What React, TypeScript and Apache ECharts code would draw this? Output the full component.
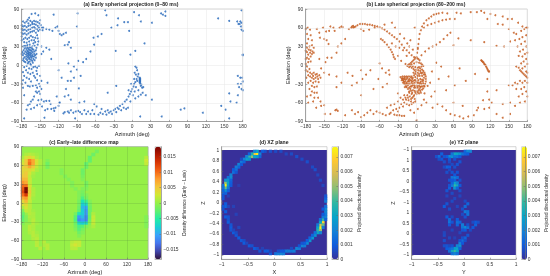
import React, { useEffect, useRef } from "react";
import * as echarts from "echarts";

const earlyPoints: number[][] = [
[-178,70],[-175,68],[-172,70],[-169,67],[-166,71],[-163,69],[-160,71],[-157,70],[-154,69],[-151,67],[-149,64],[-147,60],[-146,56],[-178,62],[-175,63],[-172,61],[-169,63],[-166,64],[-163,66],[-160,66],[-157,65],[-154,63],[-152,60],[-150,57],[-178,56],[-175,57],[-172,55],[-169,57],[-166,58],[-163,60],[-160,61],[-158,59],[-155,58],[-153,55],[-178,50],[-175,51],[-172,49],[-169,51],[-166,53],[-163,54],[-160,55],[-157,52],[-155,48],[-154,43],[-153,38],[-154,33],[-156,28],[-158,44],[-160,40],[-162,45],[-165,47],[-168,44],[-171,42],[-174,44],[-177,42],[-180,64],[-180,58],[-180,52],[-180,46],[-180,40],[-176,37],[-172,36],[-168,38],[-164,40],[-161,35],[-158,37],[-175,31],[-171,32],[-167,33],[-163,30],[-159,31],[-157,24],[-156,18],[-157,12],[-159,8],[-162,4],[-166,2],[-170,3],[-174,5],[-178,8],
[-180,18],[-179,21],[-178,16],[-177,24],[-176,19],[-175,13],[-175,27],[-174,22],[-173,17],[-173,10],[-172,26],[-172,20],[-172,14],[-171,29],[-171,23],[-171,8],[-170,19],[-170,16],[-170,12],[-169,27],[-169,22],[-169,18],[-169,14],[-168,25],[-168,20],[-168,10],[-167,29],[-167,16],[-167,12],[-167,6],[-166,24],[-166,20],[-166,17],[-165,28],[-165,14],[-165,9],[-164,23],[-164,19],[-164,12],[-163,26],[-163,16],[-163,7],[-162,21],[-162,14],[-161,25],[-161,10],[-160,18],[-160,14],[-159,22],[-158,16],[-177,11],[-174,30],[-178,30],[-176,6],[-169,5],[-165,0],[-161,-3],[-172,-1],[-176,-3],[-168,-5],[-164,-6],[-158,-2],[-155,-4],[-152,-1],[-156,-9],[-178,-11],[-176,-17],[-173,-8],[-170,-12],[-166,-14],[-162,-12],[-160,-17],[-172,-20],[-168,-22],[-158,-20],[-155,-24],[-178,-24],[-174,-28],[-165,-26],[-150,-17],[-155,-14],[-148,-25],[-152,-30],[-162,-33],[-167,-34],[-170,-33],[-157,-32],[-155,-36],[-150,-34],[-148,-38],[-138,-28],[-180,-30],[-178,-36],[-176,-48],[-176,-85],[-157,-42],[-155,-44],[-152,-42],[-150,-46],[-160,-50],[-162,-55],[-165,-58],[-167,-62],[-170,-64],[-172,-71],[-165,-70],[-160,-68],[-155,-64],[-150,-62],[-147,-66],[-153,-56],[-148,-55],[-144,-58],[-140,-57],[-135,-57],[-133,-62],[-138,-70],[-142,-72],[-132,-70],[-128,-69],[-125,-68],[-120,-65],[-118,-60],[-123,-50],[-127,-73],[-143,-84],
[-168,76],[-164,82],[-158,83],[-153,80],[-150,72],[-170,73],[-128,81],[-145,60],[-140,58],[-135,57],[-130,55],[-125,60],[-122,62],[-120,55],[-118,50],[-115,48],[-108,52],[-112,50],[-103,37],[-105,33],[-110,32],[-100,28],[-148,30],[-140,28],[-135,25],[-132,10],[-148,18],[-145,22],[-89,83],[-90,62],[-44,88],[-42,80],[-23,75],[-24,64],[-13,69],[-7,69],[-34,60],[-5,55],[3,85],[11,80],[14,70],[32,68],[47,83],[50,81],[54,79],[54,86],[-50,50],[-56,46],[-63,44],[-62,33],[-68,22],[-27,23],[5,23],[-3,17],[20,35],[-75,10],[-80,5],[-88,7],[-90,-7],[-95,-2],[-104,3],[-100,-10],[-120,-8],[-115,-20],[-105,-25],[-95,-20],[-84,-17],[-100,-25],[-87,-37],[-108,-38],[-104,-48],[-110,-50],[-100,-55],[-119,-60],
[-112,-77],[-110,-75],[-105,-74],[-103,-76],[-100,-72],[-96,-76],[-92,-74],[-88,-73],[-85,-75],[-82,-78],[-78,-72],[-75,-78],[-72,-74],[-68,-78],[-65,-72],[-62,-78],[-58,-66],[-55,-79],[-52,-76],[-50,-70],[-48,-78],[-44,-74],[-42,-79],[-40,-72],[-38,-76],[-35,-74],[-33,-78],[-30,-72],[-28,-70],[-26,-75],[-24,-68],[-22,-70],[-20,-65],[-18,-72],[-16,-62],[-14,-68],[-12,-58],[-10,-70],[-9,-55],[-7,-68],[-6,-50],[-4,-46],[-3,-58],[-2,-42],[0,-38],[1,-48],[2,-34],[3,-30],[4,-42],[5,-27],[6,-35],[7,-22],[8,-25],[9,-18],[10,-14],[8,-8],[7,-4],[5,-2],[6,-15],[4,-12],[3,-22],[-6,-40],[-2,-30],[-26,-33],
[12,-20],[12,-22],[12,-24],[12,-26],[12,-28],[13,-21],[13,-23],[13,-25],[13,-27],[13,-30],[14,-33],[15,-31],[16,-36],[18,-35],[17,-44],[10,-40],[10,-50],[5,-53],[14,-47],[22,-48],[32,-55],[13,-82],[48,-82],[79,-71],[85,-69],[115,-76],[-93,-85],[-86,-60],[-78,-58],[-62,-62],[-40,-44],
[140,75],[158,71],[171,70],[173,66],[176,70],[178,68],[177,62],[178,57],[180,55],[175,66],[178,88],[180,17],[180,16],[172,-17],[176,-20],[179,-20],[180,-26],[177,-30],[172,-30],[174,-35],[178,-38],[180,-40],[158,-45],[160,-58],[172,-48],[170,-60],[145,-65],[152,-71],[158,-85]
];

const latePoints: number[][] = [
[-180,58],[-177,60],[-173,57],[-178,50],[-172,48],[-176,42],[-170,40],[-178,35],[-174,30],[-170,32],[-167,28],[-178,28],[-175,25],[-172,24],[-169,22],[-167,20],[-170,18],[-173,20],[-176,17],[-178,21],[-180,23],[-172,14],[-175,10],[-178,12],[-180,10],[-176,5],[-172,6],[-180,2],[-178,-2],[-174,-6],[-180,-8],[-177,-10],[-173,-12],[-170,-14],[-167,-12],[-164,-15],[-161,-18],[-158,-16],[-156,-20],[-160,-22],[-164,-20],[-167,-22],[-170,-20],[-173,-18],[-176,-16],[-179,-20],[-162,-14],[-168,-17],[-172,-25],[-168,-28],[-164,-26],[-159,-27],[-176,-28],[-170,-33],[-166,-35],[-162,-34],[-174,-38],[-170,-42],[-166,-44],[-162,-44],[-172,-48],[-166,-52],[-178,-50],[-176,-60],[-168,-58],[-160,-52],[-156,-58],[-163,-68],[-155,-65],[-150,-64],[-149,-78],[-140,-78],[-128,-73],[-130,-71],[-132,-72],[-116,-80],
[-162,58],[-158,52],[-152,60],[-147,54],[-142,55],[-140,62],[-135,60],[-133,55],[-157,44],[-150,42],[-146,40],[-143,34],[-122,62],[-125,60],[-120,61],[-128,30],[-122,35],[-116,42],[-130,20],[-138,12],[-145,12],[-148,5],[-158,10],[-155,-5],[-150,-12],[-142,-15],[-130,-18],[-112,-12],[-104,-17],[-122,-28],[-130,-35],[-105,-32],[-97,-28],[-88,-22],[-90,-48],[-75,-8],[-82,-15],[-90,-8],[-60,3],[-56,-5],[-50,-12],[-45,-8],[-62,-22],[-70,-38],[-55,-35],[-48,-30],[-44,-15],
[-105,62],[-103,63],[-101,61],[-99,62],[-103,60],[-106,60],[-110,58],[-96,64],[-92,66],[-88,66],[-84,66],[-80,65],[-76,65],[-72,64],[-68,63],[-64,62],[-60,61],[-56,59],[-52,57],[-48,54],[-44,51],[-40,48],[-36,45],[-32,42],[-28,38],[-24,33],[-20,28],[-16,24],[-12,20],[-8,16],[-4,13],[-90,58],[-86,55],[-77,57],[-68,60],[-55,40],[-52,37],[-48,33],[-45,29],[-42,25],[-40,21],[-38,17],[-37,13],[-35,10],[-58,42],[-40,35],[-34,30],[-28,28],[-22,24],[-15,35],[-10,40],[-20,43],[-27,50],[-35,60],[-52,65],[-40,68],[-16,15],[-30,15],[-25,7],[-18,2],[-12,30],[-6,25],[2,28],[-3,60],
[0,13],[1,20],[2,26],[3,34],[4,42],[5,50],[7,56],[9,62],[12,67],[16,72],[20,75],[24,78],[28,81],[32,82],[36,83],[42,84],[50,83],[65,84],[72,83],[88,85],[98,85],[105,87],[110,84],[120,82],[128,80],[140,78],[148,74],[155,74],[165,68],[172,62],[178,60],[12,60],[18,64],[24,66],[30,68],[36,70],[42,72],[48,73],[54,74],[62,74],[115,74],[132,66],[140,65],[150,58],[158,52],[8,16],[14,22],[20,27],[26,30],[32,33],[38,37],[44,42],[50,48],[55,52],[60,32],[68,43],[88,40],[110,37],[130,31],[142,30],[152,38],[32,4],[40,-2],[25,-10],[70,-5],[52,-18],[62,-32],[80,-25],[95,-14],
[105,8],[106,7],[107,6],[108,5],[109,4],[110,2],[111,1],[112,0],[113,-2],[114,-4],[115,-6],[116,-8],[117,-10],[118,-10],[115,-22],[115,-42],[130,-40],[150,-32],
[-1,12],[1,11],[3,10],[5,8],[-3,10],[-5,8],[-7,6],[-9,4],[-11,2],[-13,1],[-15,-1],[-8,1],[-4,3],[0,5],[4,4],[7,3],[9,1],[11,-1],[-6,-2],[-2,-3],[2,-4],[6,-5],[9,-7],[11,-9],[13,-12],[14,-15],[15,-18],[15,-22],[15,-26],[14,-30],[13,-34],[11,-37],[9,-39],[6,-41],[3,-40],[0,-42],[-3,-41],[-6,-40],[-9,-41],[-12,-42],[-14,-38],[-16,-35],[-18,-31],[-20,-27],[-22,-24],[-24,-21],[-26,-19],[-23,-18],[-20,-18],[-17,-18],[-14,-18],[-11,-18],[-8,-18],[-22,-21],[-18,-23],[-14,-26],[-12,-22],[-8,-25],[-16,-28],[-11,-30],[-6,-30],[-3,-28],[0,-26],[3,-24],[6,-22],[-8,-34],[-4,-36],[0,-32],[4,-33],[8,-30],[10,-26],[-12,-36],[-5,-12],[-1,-10],[3,-8],[6,-9],[8,-13],[9,-17],[-5,-6],[-4,-16],[-2,-19],[1,-21],[-6,-20],[4,-14],[0,-15],[12,-20],[11,-29],[6,-35],[-14,-32],[-19,-35],
[-24,-24],[-22,-28],[-20,-22],[-18,-26],[-16,-22],[-14,-30],[-12,-26],[-10,-24],[-10,-34],[-8,-28],[-7,-22],[-6,-26],[-4,-24],[-4,-32],[-2,-24],[-1,-36],[1,-28],[2,-36],[3,-28],[5,-30],[5,-38],[7,-26],[7,-34],[9,-23],[9,-34],[11,-24],[12,-15],[10,-12],[7,-12],[5,-17],[2,-12],[2,-17],[-2,-13],[-3,-8],[0,-7],[4,-3],[-8,-4],[-10,-1],[-12,-3],[8,-2],[-20,-30],[-17,-34],[-10,-38],[-7,-44],[-2,-44],[2,-43],[7,-44],[-5,-50],[-9,-54],[-14,-52],[-18,-52],[-2,-58],[-8,-62],[-22,-55],[-23,-22],[-21,-25],[-19,-20],[-17,-30],[-15,-20],[-13,-24],[-9,-20],[-7,-32],[-3,-34],[1,-34],[6,-28],[12,-33],
[-12,-44],[-8,-46],[-4,-48],[0,-46],[4,-45],[-15,-48],[-11,-50],[-7,-52],[-3,-54],[-17,-55],[-13,-56],[-9,-58],[-5,-60],[-20,-60],[-16,-62],[-12,-64],[-25,-62],[-22,-66],[-28,-68],[-33,-70],[-38,-72],[-30,-74],[-42,-76],[-36,-79],[-32,-80],[-28,-80],[-24,-81],[-20,-81],[-44,-78],[-50,-80],[-55,-78],[-60,-76],[-65,-74],[-70,-78],[-75,-72],[-80,-76],[-85,-80],[-90,-83],[-95,-75],[-100,-78],[-105,-72],[-48,-68],[-42,-64],[-36,-62],[-30,-58],[-26,-52],[-20,-48],[-30,-45],[-10,-72],[-4,-76],[2,-70],[8,-64],[0,-88],[12,-55],[16,-60],[24,-50],[30,-42],[18,-33],[22,-28],[13,-45],[26,-68],[34,-62],[42,-66],[48,-72],[55,-78],[62,-80],[70,-82],[76,-85],[84,-82],[93,-80],[98,-72],[100,-68],[110,-70],[118,-68],[130,-78],[140,-84],[152,-78],[60,-60],[75,-65],[108,-56],[122,-60],[140,-62],[118,-55],[36,-22],[48,-40],
[180,60],[175,58],[170,55],[162,50],[178,48],[172,45],[167,42],[160,40],[176,38],[170,34],[164,30],[178,30],[173,25],[168,22],[180,20],[176,18],[172,14],[166,15],[178,10],[174,6],[170,3],[180,2],[176,-2],[172,-5],[166,-4],[162,-2],[168,-8],[170,-10],[172,-12],[174,-14],[176,-16],[178,-18],[180,-20],[178,-10],[180,-12],[176,-25],[172,-28],[168,-25],[180,-28],[164,-30],[160,-28],[175,-35],[170,-38],[162,-38],[156,-32],[178,-42],[172,-46],[166,-50],[180,-50],[176,-58],[168,-60],[160,-65],[152,-60]
];

const diffRows: [number, number, number[]][] = [
[82.5,35,[-1.5]],[77.5,-165,[1,1.5,1,0.5]],[77.5,25,[-2]],
[72.5,-175,[1,3,4,3,1]],[72.5,15,[-2.5]],[72.5,175,[1.5]],
[67.5,-175,[2,5,9,7,3,1]],[67.5,-105,[-1]],[67.5,15,[-2.5]],[67.5,175,[2.5]],
[62.5,-175,[3,5,10,7,3,1]],[62.5,-105,[-2]],[62.5,5,[-2.5]],[62.5,175,[2]],
[57.5,-175,[4,5,7,5,2,0.5]],[57.5,-105,[-1.5]],[57.5,5,[-2]],
[52.5,-175,[4,4,4,3,1]],[52.5,-65,[-1]],[52.5,-5,[-2]],
[47.5,-175,[4,5,3,1]],[47.5,-65,[-1]],[47.5,-5,[-2]],
[42.5,-175,[5,5,2,0.5]],[42.5,-55,[-1]],[42.5,-5,[-1.5]],
[37.5,-175,[6,6,2]],[37.5,-45,[-1]],[37.5,-5,[-1]],
[32.5,-175,[8,7,2]],[32.5,-35,[-1]],[32.5,5,[-1.5]],
[27.5,-175,[10,10,3]],[27.5,-35,[-1]],[27.5,5,[-1.5]],
[22.5,-175,[11,18,4,1]],[22.5,-25,[-1]],[22.5,-5,[-1,-1]],
[17.5,-175,[12,18,5,1]],[17.5,-15,[-1,-1.5]],
[12.5,-175,[10,13,4,1]],[12.5,-15,[-1,-2,-1]],
[7.5,-175,[7,8,3,0.5]],[7.5,-15,[-1,-3.5,-1.5]],
[2.5,-175,[4,6,2]],[2.5,-15,[-1.5,-6,-4,-1]],
[-2.5,-175,[3,4,1.5]],[-2.5,-15,[-1.5,-8,-7,-1.5]],
[-7.5,-175,[1,3,1.5]],[-7.5,-15,[-2,-9,-10,-2]],
[-12.5,-175,[-1,2,1.5,0.5]],[-12.5,-15,[-2.5,-8,-11,-2]],
[-17.5,-175,[-2,0,1.5,1]],[-17.5,-25,[-1.5,-6,-8,-11,-2,1]],
[-22.5,-175,[-3,-1,1,1]],[-22.5,-25,[-3,-11,-9,-12,-2.5,2]],[-22.5,175,[-1]],
[-27.5,-175,[-2.5,-1,0.5,1.5]],[-27.5,-25,[-3.5,-12,-11,-12,-2,2]],[-27.5,175,[-1]],
[-32.5,-175,[-1,0,0,1.5,0.5]],[-32.5,-25,[-2,-7,-8,-7,-1,2]],[-32.5,175,[-1]],
[-37.5,-165,[0,1.5,1]],[-37.5,-25,[-1.5,-3.5,-3,-1,0,1]],[-37.5,175,[-1]],
[-42.5,-155,[1.5,1]],[-42.5,-25,[-1,-3,-1.5]],
[-47.5,-155,[1,1.5,0.5]],[-47.5,-15,[-2,-1]],
[-52.5,-145,[1.5,1]],[-52.5,-15,[-1]],
[-57.5,-145,[1,1.5]],
[-62.5,-135,[1.5]],[-62.5,-115,[1.5]],[-62.5,-35,[1.5,2,2]],
[-67.5,-135,[1.5,0,1,1.5]],[-67.5,-35,[2,3,2]],
[-72.5,-125,[1.5,0,1.5]],[-72.5,-35,[1.5,1.5]]
];

const xzCells: number[][] = [
[-0.35,0.9,7.5],[-0.4,0.9,6.5],[-0.45,0.85,5],[-0.5,0.85,4],[-0.35,0.95,3],[-0.4,0.95,2],[-0.55,0.8,3],[-0.5,0.8,2.5],[-0.6,0.8,2],[-0.3,0.9,2],[-0.45,0.9,3.5],[-0.55,0.85,2],[-0.65,0.75,1.8],[-0.6,0.75,1.2],[-0.7,0.7,2],[-0.7,0.65,1.2],[-0.75,0.65,1.8],[-0.75,0.6,1.5],[-0.8,0.55,1.5],[-0.8,0.6,1],[-0.85,0.5,2],[-0.85,0.45,2.2],[-0.9,0.45,1.5],[-0.9,0.4,2.5],[-0.95,0.35,5],[-0.95,0.3,7.5],[-0.95,0.25,4.5],[-0.9,0.35,3],[-0.9,0.3,2.5],[-1,0.3,1.5],[-0.95,0.4,2.5],[-0.95,0.2,2.5],[-1,0.25,1.5],[-1,0.2,1.2],[-1,0.15,1.2],[-0.95,0.15,1.2],[-1,0.1,0.8],[-1,0.05,0.8],[-0.95,-0.05,1],[-0.95,-0.1,1.2],[-1,-0.1,0.8],[-1,-0.15,0.7],[-0.95,-0.2,1],[-0.95,-0.3,1],[-0.9,-0.3,0.8],[-0.9,-0.4,1.1],[-0.9,-0.35,0.8],[-0.85,-0.5,1],[-0.85,-0.45,0.8],[-0.85,-0.55,0.8],[-0.8,-0.6,1],[-0.75,-0.65,0.9],[-0.75,-0.6,0.6],[-0.7,-0.7,1],[-0.65,-0.75,0.9],[-0.6,-0.75,0.6],[-0.6,-0.8,1],[-0.5,-0.85,0.9],[-0.45,-0.85,0.7],[-0.4,-0.9,1],[-0.35,-0.9,0.7],[-0.3,-0.95,0.8],[-0.2,-0.95,1],[-0.15,-0.95,1],[-0.1,-1,0.9],[0,-1,1.5],[0.05,-1,1.8],[0.1,-1,2],[0.15,-1,1.8],[0.2,-0.95,1.8],[0.25,-0.95,1.8],[0.3,-0.95,1.6],[0.35,-0.95,1.8],[0.4,-0.9,2],[0.45,-0.9,1.8],[0.5,-0.85,2],[0.55,-0.85,1.8],[0.6,-0.8,2.2],[0.65,-0.75,2.5],[0.7,-0.7,2.6],[0.75,-0.65,2.4],[0.8,-0.6,3],[0.8,-0.55,3.5],[0.85,-0.55,5],[0.85,-0.5,7.5],[0.85,-0.45,6],[0.9,-0.4,7],[0.9,-0.45,4.5],[0.85,-0.4,3],[0.9,-0.35,4],[0.95,-0.3,2],[0.9,-0.3,1.8],[0.95,-0.25,1.8],[0.95,-0.2,2],[0.95,-0.15,2.2],[0.95,-0.1,1.5],[0.95,0,1.8],[0.95,0.05,1.2],[0.95,0.1,0.8],[0.9,0.3,0.5],[0.85,0.4,0.6],[0.8,0.5,0.5],[0.75,0.6,0.7],[0.7,0.65,0.6],[0.6,0.75,0.7],[0.5,0.8,0.6],[0.4,0.85,0.7],[0.3,0.9,0.6],[0.2,0.9,0.5],[0.1,0.95,0.6],[0,0.95,0.6],[-0.1,0.95,0.7],[-0.2,0.95,0.7],[-0.25,0.95,1],[-0.8,-0.1,0.4],[-0.7,-0.5,0.5],[-0.7,0.3,0.3],[-0.75,-0.25,0.4],
[-0.3,0.85,1.2],[-0.35,0.85,2.5],[-0.4,0.85,3],[-0.5,0.9,1.2],[-0.9,0.25,1.8],[-0.9,0.2,1.1],[-0.85,0.35,1],[-0.85,0.3,0.9],[0.8,-0.5,3],[0.8,-0.45,1.8],[0.9,-0.5,1.8],[0.85,-0.6,2],[0.75,-0.6,1.5],[0.7,-0.65,1.2],[0.65,-0.7,1.2],[0.6,-0.75,1],[0.85,-0.35,1.6],[0.95,-0.35,1.2],[0.9,-0.25,1],[0.55,-0.8,1],[0.5,-0.8,0.8],[0.45,-0.85,0.8],[0.1,-0.95,0.9],[0.05,-0.95,0.7],[0.15,-0.95,0.9],[0.3,-0.9,0.6],[0.9,-0.15,1],[-0.65,0.7,0.9],[-0.75,0.55,0.8],[-0.85,0.4,1.2],[-0.65,0.8,0.6],[-0.9,0.1,0.4],[-0.9,-0.1,0.5],[-0.8,-0.55,0.5],[-0.55,-0.8,0.5],[-0.25,-0.9,0.4],[-0.1,-0.95,0.4]
];

const yzCells: number[][] = [
[-0.2,0.25,4],[-0.25,0.25,3.2],[-0.15,0.25,3],[-0.3,0.25,1.5],[-0.25,0,1.5],[-0.2,0,2],[-0.15,0,1.5],[-0.3,0.5,1.2],[-0.2,0.5,2.8],[-0.15,0.5,3],[-0.1,0.75,2.5],[-0.1,1,2],[-0.05,1.25,1.5],[-0.15,0.75,2],[-0.35,0.5,1],[-0.4,0.75,0.7],[-0.35,0.75,0.8],[-0.4,1.25,0.7],[0,1.5,1.2],[0.05,1.75,0.8],[-0.4,1.75,0.6],[-0.3,1.5,0.5],
[-0.25,0.5,1.6],[-0.1,0.5,1.2],[-0.25,0.75,0.8],[-0.3,0.75,0.6],[-0.05,1,0.9],[-0.1,1.25,0.8],[-0.05,1.5,0.7],[0,1.25,0.7],[-0.2,1.5,0.4],[-0.1,2,0.5],[-0.25,2.25,0.5],[0.1,2.25,0.6],
[0,2.5,2.2],[-0.05,2.5,1.6],[0.05,2.5,1.5],[-0.05,2.75,1.8],[-0.1,3,1.2],[-0.15,2.75,1.2],[-0.15,3,1.5],[-0.15,3.25,1],[-0.3,3,1.6],[-0.3,3.25,1.4],[-0.35,3.5,1],[-0.3,2.75,0.9],[0.2,2.75,1.2],[0.2,3,1],[0.15,2.5,0.9],[0.25,3,0.7],[-0.4,4.5,1],[-0.35,4.75,0.8],[-0.4,2,0.5],[0.05,3.75,1.6],[0,4,1.8],[0.05,4,1.5],[0,4.5,1.4],[0.05,4.75,1.2],[-0.05,3.75,0.6],[-0.3,4.25,0.7],[-0.25,5,0.6],[-0.15,4.5,0.5],[0,5,0.6],
[-0.05,4.25,0.7],[0,3.5,0.8],[-0.25,3.5,0.6],[-0.25,3,0.8],[0,2.25,1],[-0.05,2.25,0.8],[0.05,2.75,0.7],[0.15,3,0.6],[-0.2,5.25,0.5],[-0.35,5.5,0.5],[-0.1,5.5,0.5],[-0.25,5.75,0.6],
[-0.2,6.5,4],[-0.15,6.5,3.2],[-0.2,6.75,3],[-0.2,6.25,2.5],[-0.25,6.5,1.8],[-0.15,6.75,2],[-0.2,7.25,2],[-0.25,7.25,1.6],[-0.15,7.25,1.4],[-0.3,6.25,1.1],[-0.35,6,0.8],[-0.1,6,0.7],[-0.1,7,0.7],[-0.3,7,0.8],[-0.35,7.75,0.7],[-0.25,7.75,0.8],[-0.15,7.75,0.8],[-0.35,8.25,1.2],[-0.3,8.25,1],[-0.2,8.25,0.7],[-0.4,8.75,0.7],[-0.15,8.5,0.8],[-0.1,8.75,0.8],
[-0.25,6.75,1.2],[-0.15,6.25,1.2],[-0.2,7,1.2],[-0.25,7,0.9],[-0.2,7.5,0.9],[-0.3,6.5,0.8],[-0.1,6.5,0.9],[-0.3,8,0.6],[-0.25,8.5,0.6],[-0.4,8.25,0.6],[-0.3,8.75,0.6],
[-0.2,9.5,3.2],[-0.15,9.5,3],[-0.1,9.5,2.5],[-0.25,9.25,2.4],[-0.3,9.25,2.2],[-0.15,9.25,1.5],[-0.05,9.5,1.6],[-0.25,9.5,1.6],[0,9.75,1.2],[0.05,9.75,2.2],[0.1,9.75,2],[0.05,9.5,1],[-0.5,9.25,1.5],[-0.45,9.5,1.1],[-0.55,9.25,0.7],[-0.45,9,0.9],[-0.1,9.25,1],
[-0.2,9.25,1.6],[-0.35,9.25,1],[-0.3,9,0.9],[-0.2,9,0.8],[0,9.5,1.2],[-0.5,9,0.7],[-0.4,9.25,0.8]
];

const azimuthTicks30 = [-180,-150,-120,-90,-60,-30,0,30,60,90,120,150,180];
const elevationTicks = [-90,-60,-30,0,30,60,90];
const xzTicksZ = [-1,-0.8,-0.6,-0.4,-0.2,0,0.2,0.4,0.6,0.8,1];
const yzTickLabels = ["−1","−0.5","0","0.5","1","−1","−0.5","0","0.5","1","−1"];
const diffBarTicks = [-0.015,-0.01,-0.005,0,0.005,0.01,0.015];
const densityBarTicks = [0,0.001,0.002,0.003,0.004,0.005,0.006,0.007];

const TURBO = ["#30123b","#4145ab","#4675ed","#39a2fc","#1bcfd4","#24eca6","#61f070","#96f048","#d1e834","#f3c63a","#fe9b2d","#f36315","#d93806","#b11901","#7a0402"];
const PARULA = ["#38309a","#0f5cdd","#1481d6","#06a4ca","#2eb7a4","#87bf77","#d1bb59","#fec832","#f9fb0e"];
const FONT = "Liberation Sans";
const INK = "#333";
const minus = (v: number | string) => String(v).replace("-", "−");

const box = (g: number[], bg?: string) => ({
  left: g[0], top: g[1], width: g[2] - g[0], height: g[3] - g[1],
  show: true, backgroundColor: bg ?? "transparent", borderWidth: bg ? 0 : 0.5, borderColor: "#aaa",
});

function valueAxis(o: any) {
  const { name, ticks, min, max, gap, pos, grid, labels, split = true, splitColor = "#e6e6e6", nameSize = 5.6 } = o;
  return {
    type: "value", gridIndex: grid, min, max, position: pos, z: 6,
    name, nameLocation: "middle", nameGap: gap,
    nameTextStyle: { fontSize: nameSize, color: "#222", fontFamily: FONT, fontWeight: 500 },
    axisLine: { show: true, onZero: false, lineStyle: { color: "#777", width: 0.6 } },
    axisTick: { show: true, inside: true, length: 1.6, lineStyle: { color: "#666", width: 0.5 }, customValues: ticks },
    axisLabel: {
      show: true, fontSize: 4.9, color: INK, fontFamily: FONT, margin: 2.5, customValues: ticks,
      showMinLabel: true, showMaxLabel: true, hideOverlap: false,
      formatter: labels ? (v: number) => labels[Math.round(v)] : (v: number) => minus(+v.toFixed(4)),
    },
    splitLine: { show: split, lineStyle: { color: splitColor, width: 0.5 } },
  };
}

const frameAxis = (grid: number, pos: string) => ({
  type: "value", gridIndex: grid, position: pos, min: 0, max: 1, z: 6,
  axisLine: { show: true, onZero: false, lineStyle: { color: "#999", width: 0.6 } },
  axisTick: { show: false }, axisLabel: { show: false }, splitLine: { show: false },
});

function hiddenCat(grid: number, n: number) {
  return {
    type: "category", gridIndex: grid, data: Array.from({ length: n }, (_, i) => i), show: false,
    boundaryGap: true,
  };
}

function diffData() {
  const out: number[][] = [];
  for (const [el, start, vals] of diffRows) {
    vals.forEach((v, i) => {
      if (v !== 0) out.push([Math.round((start + 175) / 10) + i, 35 - Math.round((87.5 - el) / 5), v / 1000]);
    });
  }
  return out;
}

function densityData(list: number[][], yStep: number, yMin: number) {
  return list.map(([x, y, v]) => [Math.round((x + 1) / 0.05), Math.round((y - yMin) / yStep), v / 1000]);
}

const titleOf = (text: string, cx: number, top: number) => ({
  text, left: cx, top, textAlign: "center", padding: 0,
  textStyle: { fontSize: 5.1, fontWeight: "bold", color: "#222", fontFamily: FONT },
});

function buildOption() {
  const A = [20.7, 9, 242.7, 121.5];
  const B = [305.7, 9, 527.3, 121.5];
  const C = [21, 146.7, 148, 259.3];
  const CB = [155, 146.7, 161, 259.3];
  const D = [221.7, 146.7, 327, 259.3];
  const DI = [221.7, 150, 327, 255];
  const DB = [332, 146.7, 338, 259.3];
  const E = [411.7, 146.7, 516, 259.3];
  const EI = [411.7, 150, 516, 255];
  const EB = [521.7, 146.7, 527, 259.3];
  const grids = [
    box(A), box(B), box(C, "#96f048"), box(C), box(CB),
    box(DI, "#38309a"), box(D), box(DB),
    box(EI, "#38309a"), box(E), box(EB),
  ];

  const az = (grid: number, ticks: number[], gap = 9.5) => valueAxis({ grid, name: "Azimuth (deg)", ticks, min: -180, max: 180, gap, pos: "bottom" });
  const el = (grid: number, gap = 13) => valueAxis({ grid, name: "Elevation (deg)", ticks: elevationTicks, min: -90, max: 90, gap, pos: "left" });

  const barY = (grid: number, ticks: number[], min: number, max: number, name: string, gap: number) => ({
    ...valueAxis({ grid, name, ticks, min, max, gap, pos: "right", split: false, nameSize: 4.6 }),
    nameRotate: 90,
  });

  const xAxis: any[] = [
    az(0, azimuthTicks30), az(1, azimuthTicks30),
    hiddenCat(2, 36),
    { ...az(3, [-180,-120,-60,0,60,120,180]), splitLine: { show: true, lineStyle: { color: "rgba(70,120,60,0.35)", width: 0.5 } } },
    { ...frameAxis(4, "bottom") },
    hiddenCat(5, 40),
    valueAxis({ grid: 6, name: "X", ticks: [-1,-0.5,0,0.5,1], min: -1, max: 1, gap: 9.5, pos: "bottom", split: false }),
    { ...frameAxis(7, "bottom") },
    hiddenCat(8, 40),
    valueAxis({ grid: 9, name: "Y", ticks: [-1,-0.5,0,0.5,1], min: -1, max: 1, gap: 9.5, pos: "bottom", split: false }),
    { ...frameAxis(10, "bottom") },
  ];
  const yAxis: any[] = [
    el(0), el(1),
    hiddenCat(2, 36),
    { ...el(3), splitLine: { show: true, lineStyle: { color: "rgba(70,120,60,0.35)", width: 0.5 } } },
    barY(4, diffBarTicks, -0.0182, 0.0182, "Density difference (Early − Late)", 20),
    hiddenCat(5, 40),
    valueAxis({ grid: 6, name: "Z", ticks: xzTicksZ, min: -1.082, max: 1.063, gap: 16, pos: "left", split: false }),
    barY(7, densityBarTicks, 0, 0.0077, "Projected directional density", 17),
    hiddenCat(8, 40),
    valueAxis({ grid: 9, name: "Z", ticks: [0,1,2,3,4,5,6,7,8,9,10], min: -0.41, max: 10.31, gap: 16, pos: "left", split: false, labels: yzTickLabels }),
    barY(10, densityBarTicks, 0, 0.0077, "Projected directional density", 17),
  ];

  const scatter = (grid: number, data: number[][], color: string) => ({
    type: "scatter", xAxisIndex: grid, yAxisIndex: grid, data, symbolSize: 2,
    itemStyle: { color, opacity: 0.85, borderWidth: 0 }, silent: true, clip: false,
  });
  const heat = (grid: number, data: number[][]) => ({
    type: "heatmap", xAxisIndex: grid, yAxisIndex: grid, data, silent: true, itemStyle: { borderWidth: 0 }, emphasis: { disabled: true },
  });
  const bar = (series: number, colors: string[], min: number, max: number, g: number[]) => ({
    type: "continuous", seriesIndex: series, min, max, dimension: 2, calculable: false, hoverLink: false,
    inRange: { color: colors }, itemWidth: g[2] - g[0], itemHeight: g[3] - g[1], left: g[0], top: g[1],
    text: ["", ""], textGap: 0, padding: 0, showLabel: false, orient: "vertical", align: "left", indicatorStyle: { opacity: 0 },
    handleStyle: { opacity: 0 }, z: 1,
  });

  return {
    animation: false,
    backgroundColor: "#fff",
    title: [
      titleOf("(a) Early spherical projection (0–80 ms)", 131, 1.5),
      titleOf("(b) Late spherical projection (80–200 ms)", 416, 1.5),
      titleOf("(c) Early–late difference map", 84, 139.8),
      titleOf("(d) XZ plane", 274, 139.8),
      titleOf("(e) YZ plane", 464, 139.8),
    ],
    grid: grids,
    xAxis,
    yAxis,
    visualMap: [
      bar(2, TURBO, -0.0182, 0.0182, CB),
      bar(3, PARULA, 0, 0.0077, DB),
      bar(4, PARULA, 0, 0.0077, EB),
    ],
    series: [
      scatter(0, earlyPoints, "#2f6fbd"),
      scatter(1, latePoints, "#c55f24"),
      heat(2, diffData()),
      heat(5, densityData(xzCells, 0.05, -1)),
      heat(8, densityData(yzCells, 0.25, 0)),
    ],
  };
}

export default function App() {
  const ref = useRef<HTMLDivElement>(null);
  useEffect(() => {
    document.body.style.margin = "0";
    const chart = echarts.init(ref.current!, undefined, { renderer: "svg" });
    chart.setOption(buildOption() as any);
    return () => chart.dispose();
  }, []);
  return <div ref={ref} style={{ width: 550, height: 276, filter: "blur(0.35px)" }} />;
}
